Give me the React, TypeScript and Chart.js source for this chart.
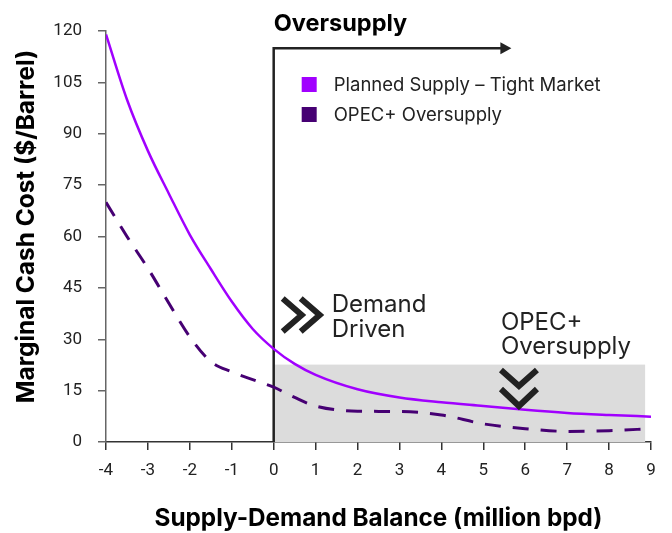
import React, { useEffect, useRef } from "react";
import { Chart, registerables } from "chart.js";

Chart.register(...registerables);

// ---- data ----
const xBalance = [-4, -3.5, -3, -2.5, -2, -1.5, -1, -0.5, 0, 0.5, 1, 2, 3, 4, 5, 6, 7, 8, 9];
const plannedSupply = [119, 100, 85, 72.5, 60.5, 50.5, 41, 33, 27.2, 22.8, 19.6, 15.4, 13, 11.6, 10.5, 9.4, 8.5, 7.9, 7.4];
const opecOversupply = [70, 60, 50.7, 40.5, 30.7, 23.5, 20.5, 18.2, 16, 13, 10.5, 9, 8.9, 7.9, 5.3, 3.9, 3.1, 3.3, 3.9];
const seriesLabels = ["Planned Supply – Tight Market", "OPEC+ Oversupply"];
const seriesColors = ["#A100FF", "#460073"];

const xTitle = "Supply-Demand Balance (million bpd)";
const yTitle = "Marginal Cash Cost ($/Barrel)";
const xMin = -4, xMax = 9, xStep = 1;
const yMin = 0, yMax = 120, yStep = 15;

// shaded oversupply zone (data units)
const zoneX = [0, 8.86];
const zoneY = [0, 22.6];
// arrow
const arrowY = 115;
const arrowEndX = 5.67;
const headerText = "Oversupply";
const demandText = ["Demand", "Driven"];
const opecText = ["OPEC+", "Oversupply"];
const opecChevronX = 5.85;

const TEXT = "#222222";

function drawChevron(ctx: CanvasRenderingContext2D, pts: number[][]) {
  ctx.beginPath();
  ctx.moveTo(pts[0][0], pts[0][1]);
  ctx.lineTo(pts[1][0], pts[1][1]);
  ctx.lineTo(pts[2][0], pts[2][1]);
  ctx.stroke();
}

const annotations = {
  id: "annotations",
  beforeDatasetsDraw(chart: any) {
    const { ctx, chartArea } = chart;
    const xs = chart.scales.x, ys = chart.scales.y;
    ctx.save();
    // shaded box
    ctx.fillStyle = "#DCDCDC";
    const x0 = xs.getPixelForValue(zoneX[0]), x1 = xs.getPixelForValue(zoneX[1]);
    const y0 = ys.getPixelForValue(zoneY[0]), y1 = ys.getPixelForValue(zoneY[1]);
    ctx.fillRect(x0, y1, x1 - x0, y0 - y1);
    // vertical line + arrow
    const ax = xs.getPixelForValue(0);
    const ay = ys.getPixelForValue(arrowY);
    const ex = xs.getPixelForValue(arrowEndX);
    ctx.strokeStyle = TEXT;
    ctx.lineWidth = 2.5;
    ctx.beginPath();
    ctx.moveTo(ax, chartArea.bottom);
    ctx.lineTo(ax, ay);
    ctx.lineTo(ex - 8, ay);
    ctx.stroke();
    ctx.fillStyle = TEXT;
    ctx.beginPath();
    ctx.moveTo(ex, ay);
    ctx.lineTo(ex - 11, ay - 6);
    ctx.lineTo(ex - 11, ay + 6);
    ctx.closePath();
    ctx.fill();
    ctx.restore();
  },
  afterDatasetsDraw(chart: any) {
    const { ctx, chartArea } = chart;
    const xs = chart.scales.x;
    const ax = xs.getPixelForValue(0);
    ctx.save();
    // y title
    ctx.save();
    ctx.translate(27, (chartArea.top + chartArea.bottom) / 2 - 10);
    ctx.rotate(-Math.PI / 2);
    ctx.fillStyle = "#000";
    ctx.font = "bold 24.4px Inter";
    ctx.textAlign = "center";
    ctx.textBaseline = "middle";
    ctx.fillText(yTitle, 0, 0);
    ctx.restore();

    // header
    ctx.fillStyle = "#000";
    ctx.font = "bold 23.5px Inter";
    ctx.textAlign = "left";
    ctx.textBaseline = "alphabetic";
    ctx.fillText(headerText, ax, 31);

    // legend
    ctx.font = "18.5px Inter";
    ctx.textBaseline = "middle";
    seriesLabels.forEach((lab, i) => {
      const cy = 84.5 + i * 30;
      ctx.fillStyle = seriesColors[i];
      ctx.fillRect(ax + 28, cy - 7.5, 15, 15);
      ctx.fillStyle = TEXT;
      ctx.fillText(lab, ax + 60, cy + 1);
    });

    // demand driven
    ctx.textBaseline = "alphabetic";
    ctx.font = "24px Inter";
    ctx.fillStyle = TEXT;
    ctx.fillText(demandText[0], ax + 58, 311.5);
    ctx.fillText(demandText[1], ax + 58, 337);
    ctx.strokeStyle = TEXT;
    ctx.lineWidth = 6;
    ctx.lineCap = "butt";
    ctx.lineJoin = "miter";
    const cx = ax + 9;
    drawChevron(ctx, [[cx, 298.5], [cx + 19, 315], [cx, 331.5]]);
    drawChevron(ctx, [[cx + 18, 298.5], [cx + 37, 315], [cx + 18, 331.5]]);

    // OPEC+ oversupply
    const ox = xs.getPixelForValue(opecChevronX);
    ctx.fillText(opecText[0], ox - 18, 330);
    ctx.fillText(opecText[1], ox - 18, 354);
    drawChevron(ctx, [[ox - 18, 370], [ox, 386], [ox + 18, 370]]);
    drawChevron(ctx, [[ox - 18, 389], [ox, 406], [ox + 18, 389]]);
    ctx.restore();
  },
};

export default function App() {
  const ref = useRef<HTMLCanvasElement>(null);
  useEffect(() => {
    if (!ref.current) return;
    const chart = new Chart(ref.current, {
      type: "line",
      data: {
        datasets: [
          {
            label: seriesLabels[0],
            data: xBalance.map((x, i) => ({ x, y: plannedSupply[i] })),
            borderColor: seriesColors[0],
            backgroundColor: seriesColors[0],
            borderWidth: 2.5,
            pointRadius: 0,
            cubicInterpolationMode: "monotone",
          },
          {
            label: seriesLabels[1],
            data: xBalance.map((x, i) => ({ x, y: opecOversupply[i] })),
            borderColor: seriesColors[1],
            backgroundColor: seriesColors[1],
            borderWidth: 3,
            borderDash: [16, 12],
            pointRadius: 0,
            cubicInterpolationMode: "monotone",
          },
        ],
      },
      options: {
        animation: false,
        responsive: false,
        layout: { padding: { top: 31, right: 21, bottom: 0, left: 0 } },
        plugins: { legend: { display: false }, tooltip: { enabled: false } },
        scales: {
          x: {
            type: "linear",
            min: xMin,
            max: xMax,
            afterFit: (s: any) => { s.height = 91; },
            ticks: {
              stepSize: xStep,
              color: TEXT,
              font: { family: "Roboto", size: 17 },
              padding: 11,
              maxRotation: 0,
            },
            grid: { drawOnChartArea: false, drawTicks: true, tickLength: 8, color: "#333", lineWidth: 1.5 },
            border: { display: true, color: "#333", width: 1.5 },
            title: {
              display: true,
              text: xTitle,
              color: "#000",
              font: { family: "Inter", size: 24.3, weight: "bold" },
              padding: { top: 0, bottom: 0 },
            },
          },
          y: {
            min: yMin,
            max: yMax,
            afterFit: (s: any) => { s.width = 106; },
            ticks: {
              stepSize: yStep,
              color: TEXT,
              font: { family: "Roboto", size: 17 },
              padding: 16,
            },
            grid: { drawOnChartArea: false, drawTicks: true, tickLength: 8, color: "#666", lineWidth: 1.5 },
            border: { display: true, color: "#666", width: 1.5 },
            title: { display: false, text: yTitle },
          },
        },
      },
      plugins: [annotations],
    });
    return () => chart.destroy();
  }, []);
  return (
    <div style={{ position: "fixed", left: 0, top: 0, width: 672, height: 533, background: "#fff" }}>
      <canvas ref={ref} width={672} height={533} style={{ display: "block" }} />
    </div>
  );
}
